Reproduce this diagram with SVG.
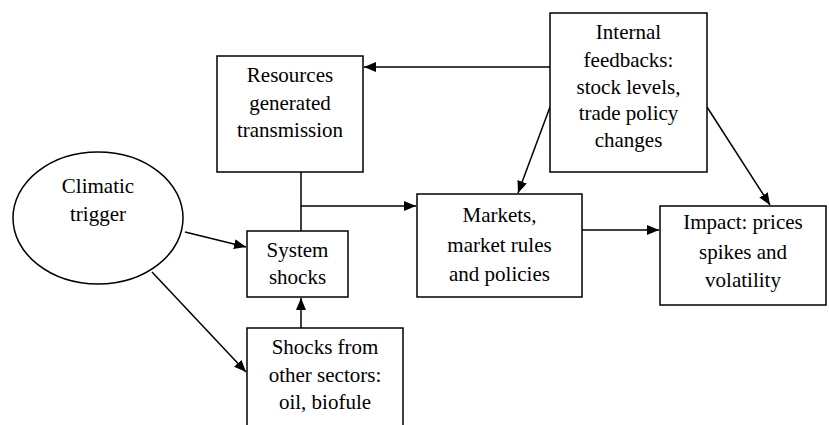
<svg xmlns="http://www.w3.org/2000/svg" width="829" height="425" viewBox="0 0 829 425">
  <style>
    .box { fill: #fff; stroke: #000; stroke-width: 1.5; }
    .lbl { font-family: "Liberation Serif", "DejaVu Serif", "Times New Roman", serif; font-size: 21px; fill: #000; text-anchor: middle; }
    .edge { fill: none; stroke: #000; stroke-width: 1.5; }
  </style>
  <defs>
    <marker id="arrow" viewBox="0 0 12 10" refX="12" refY="5" markerWidth="12" markerHeight="10" markerUnits="userSpaceOnUse" orient="auto">
      <path d="M0,0 L12,5 L0,10 Z" fill="#000"/>
    </marker>
  </defs>
  <rect width="829" height="425" fill="#fff"/>

  <g id="connectors">
    <line class="edge" x1="550" y1="67" x2="364" y2="67" marker-end="url(#arrow)"/>
    <line class="edge" x1="550" y1="107" x2="518" y2="193" marker-end="url(#arrow)"/>
    <line class="edge" x1="707" y1="107" x2="770" y2="205" marker-end="url(#arrow)"/>
    <line class="edge" x1="582" y1="230" x2="659" y2="230" marker-end="url(#arrow)"/>
    <line class="edge" x1="301" y1="172" x2="301" y2="231"/>
    <line class="edge" x1="301" y1="206" x2="416" y2="206" marker-end="url(#arrow)"/>
    <line class="edge" x1="301" y1="328" x2="301" y2="298" marker-end="url(#arrow)"/>
    <line class="edge" x1="185" y1="232" x2="246" y2="247" marker-end="url(#arrow)"/>
    <line class="edge" x1="152" y1="272" x2="246" y2="372" marker-end="url(#arrow)"/>
  </g>

  <g id="resources">
    <rect class="box" x="217" y="56" width="146" height="116"/>
    <text class="lbl" x="290" y="82">Resources</text>
    <text class="lbl" x="290" y="110">generated</text>
    <text class="lbl" x="290" y="137">transmission</text>
  </g>

  <g id="internal-feedbacks">
    <rect class="box" x="550" y="13" width="157" height="159"/>
    <text class="lbl" x="628.5" y="39">Internal</text>
    <text class="lbl" x="628.5" y="67">feedbacks:</text>
    <text class="lbl" x="628.5" y="94">stock levels,</text>
    <text class="lbl" x="628.5" y="120">trade policy</text>
    <text class="lbl" x="628.5" y="147">changes</text>
  </g>

  <g id="markets">
    <rect class="box" x="417" y="194" width="165" height="103"/>
    <text class="lbl" x="499.5" y="222">Markets,</text>
    <text class="lbl" x="499.5" y="252">market rules</text>
    <text class="lbl" x="499.5" y="281">and policies</text>
  </g>

  <g id="impact">
    <rect class="box" x="660" y="206" width="166" height="99"/>
    <text class="lbl" x="743" y="229">Impact: prices</text>
    <text class="lbl" x="743" y="259">spikes and</text>
    <text class="lbl" x="743" y="287">volatility</text>
  </g>

  <g id="climatic-trigger">
    <ellipse class="box" cx="98" cy="218" rx="85" ry="66"/>
    <text class="lbl" x="98" y="193">Climatic</text>
    <text class="lbl" x="98" y="221">trigger</text>
  </g>

  <g id="system-shocks">
    <rect class="box" x="247" y="231" width="101" height="66"/>
    <text class="lbl" x="297.5" y="257">System</text>
    <text class="lbl" x="297.5" y="284">shocks</text>
  </g>

  <g id="other-sectors">
    <rect class="box" x="247" y="328" width="156" height="110"/>
    <text class="lbl" x="325" y="354">Shocks from</text>
    <text class="lbl" x="325" y="382">other sectors:</text>
    <text class="lbl" x="325" y="409">oil, biofule</text>
  </g>
</svg>
